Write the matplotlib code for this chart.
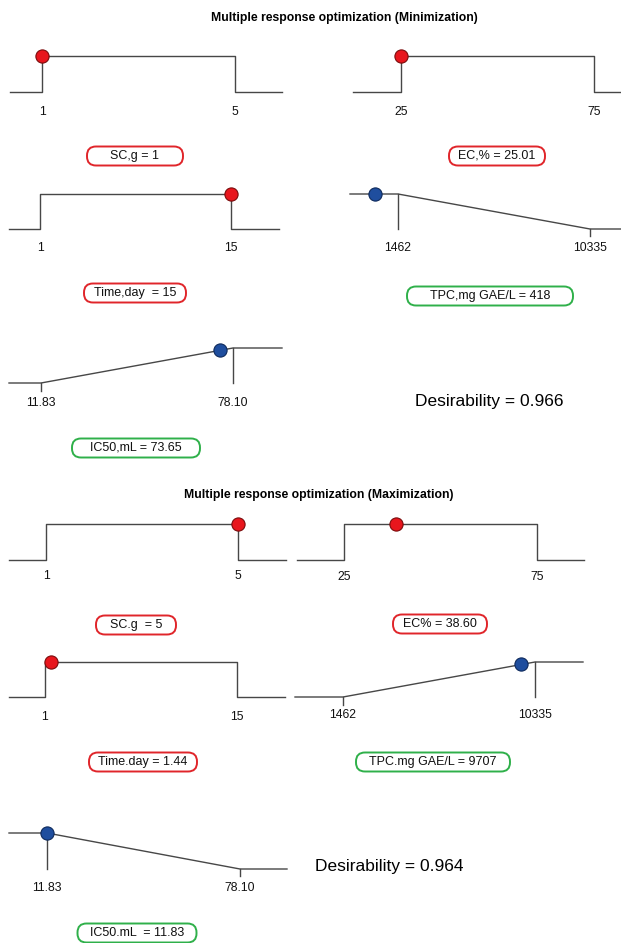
import matplotlib.pyplot as plt
import numpy as np
from matplotlib.patches import FancyBboxPatch
from matplotlib.transforms import IdentityTransform

plt.rcParams['font.family'] = ['Liberation Sans', 'DejaVu Sans']

W, H = 621, 943

# ranges of factors and responses (low, high)
sc_rng = [1, 5]
ec_rng = [25, 75]
time_rng = [1, 15]
tpc_rng = [1462, 10335]
ic50_rng = [11.83, 78.10]
rngs = [sc_rng, ec_rng, time_rng, tpc_rng, ic50_rng]
tick_txt = [["1", "5"], ["25", "75"], ["1", "15"], ["1462", "10335"], ["11.83", "78.10"]]

# optimum settings found
min_opt = [1, 25.01, 15, 418, 73.65]
max_opt = [5, 38.60, 1.44, 9707, 11.83]
min_txt = ["1", "25.01", "15", "418", "73.65"]
max_txt = ["5", "38.60", "1.44", "9707", "11.83"]
min_names = ["SC,g", "EC,%", "Time,day ", "TPC,mg GAE/L", "IC50,mL"]
max_names = ["SC.g ", "EC%", "Time.day", "TPC.mg GAE/L", "IC50.mL "]
min_kind = ["range", "range", "range", "down", "up"]
max_kind = ["range", "range", "range", "up", "down"]
min_d = 0.966
max_d = 0.964

# layout in pixels: left, right, x of low, x of high, top, base, label y, box x, box y, box w
min_lay = [
    (10, 282, 42, 235, 56, 92, 112, 135, 156, 96),
    (353, 621, 401, 594, 56, 92, 112, 497, 156, 96),
    (9, 279, 40, 231, 194, 229, 248, 135, 293, 102),
    (350, 621, 398, 590, 194, 229, 248, 490, 296, 166),
    (9, 282, 41, 233, 348, 383, 403, 136, 448, 128),
]
max_lay = [
    (9, 286, 46, 238, 524, 560, 576, 136, 625, 80),
    (297, 584, 344, 537, 524, 560, 577, 440, 624, 94),
    (9, 285, 45, 237, 662, 697, 717, 143, 762, 108),
    (295, 583, 343, 535, 662, 697, 715, 433, 762, 154),
    (9, 287, 47, 240, 833, 869, 888, 137, 933, 119),
]

line_c = '#474747'
red, red_e = '#e8161d', '#7a0c0c'
blue, blue_e = '#1f4e9e', '#0e2a5c'
green_box = '#2fb04a'
red_box = '#e0252a'

fig = plt.figure(figsize=(W / 100, H / 100), dpi=100)


def panel(lay, rng, ticks, kind, opt, name, vtxt, factor):
    left, right, lo_px, hi_px, top, base, lab_y, bx, by, bw = lay
    lo, hi = rng
    k = (hi - lo) / (hi_px - lo_px)
    x0 = lo - (lo_px - left) * k
    x1 = hi + (right - hi_px) * k
    ax = fig.add_axes([left / W, 1 - base / H, (right - left) / W, (base - top) / H])
    ax.set_xlim(x0, x1)
    ax.set_ylim(0, 1)
    ax.axis('off')
    if kind == 'range':
        xs, ys = [x0, lo, lo, hi, hi, x1], [0, 0, 1, 1, 0, 0]
        d = 1.0 if lo <= opt <= hi else 0.0
    elif kind == 'down':
        xs, ys = [x0, lo, hi, x1], [1, 1, 0, 0]
        d = np.clip((hi - opt) / (hi - lo), 0, 1)
        ax.plot([lo, lo], [1, 0], color=line_c, lw=1, clip_on=False)
        ax.plot([hi, hi], [0, -0.2], color=line_c, lw=1, clip_on=False)
    else:
        xs, ys = [x0, lo, hi, x1], [0, 0, 1, 1]
        d = np.clip((opt - lo) / (hi - lo), 0, 1)
        ax.plot([hi, hi], [1, 0], color=line_c, lw=1, clip_on=False)
        ax.plot([lo, lo], [0, -0.22], color=line_c, lw=1, clip_on=False)
    ax.plot(xs, ys, color=line_c, lw=1, clip_on=False)
    fc, ec = (red, red_e) if factor else (blue, blue_e)
    ax.plot([opt], [d], 'o', ms=9.5, mfc=fc, mec=ec, mew=0.8, clip_on=False, zorder=5)
    ly = -(lab_y - base) / (base - top)
    for v, t in zip(rng, ticks):
        ax.text(v, ly, t, ha='center', va='center', fontsize=8.8, color='#111111')
    # value box
    bh = 19
    bc = red_box if factor else green_box
    fig.patches.append(FancyBboxPatch((bx - bw / 2, H - by - bh / 2), bw, bh,
                                      boxstyle='round,pad=0,rounding_size=9',
                                      fc='white', ec=bc, lw=1.4,
                                      transform=IdentityTransform(), figure=fig))
    fig.text(bx / W, 1 - by / H, name + " = " + vtxt, ha='center', va='center',
             fontsize=9, color='#111111', zorder=6)


fig.text(344 / W, 1 - 18 / H, "Multiple response optimization (Minimization)",
         ha='center', va='center', fontsize=8.8, fontweight='bold')
for i in range(5):
    panel(min_lay[i], rngs[i], tick_txt[i], min_kind[i], min_opt[i],
          min_names[i], min_txt[i], i < 3)
fig.text(489 / W, 1 - 401 / H, "Desirability = %.3f" % min_d,
         ha='center', va='center', fontsize=12.5)

fig.text(319 / W, 1 - 495 / H, "Multiple response optimization (Maximization)",
         ha='center', va='center', fontsize=8.8, fontweight='bold')
for i in range(5):
    panel(max_lay[i], rngs[i], tick_txt[i], max_kind[i], max_opt[i],
          max_names[i], max_txt[i], i < 3)
fig.text(389 / W, 1 - 866 / H, "Desirability = %.3f" % max_d,
         ha='center', va='center', fontsize=12.5)

fig.savefig('out.png', dpi=100)
